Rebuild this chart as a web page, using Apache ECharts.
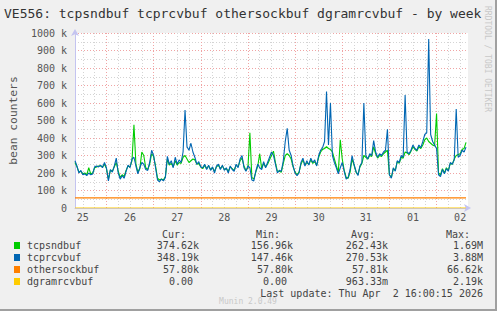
<!DOCTYPE html>
<html>
<head>
<meta charset="utf-8">
<script src="https://cdn.jsdelivr.net/npm/echarts@6/dist/echarts.min.js"></script>
<style>
  html, body { margin: 0; padding: 0; background: #f0f0f0; }
  #chart { width: 497px; height: 311px; }
</style>
</head>
<body>
<div id="chart"></div>
<script>
// ---- data ----
const dayLabels = ['25', '26', '27', '28', '29', '30', '31', '01', '02'];
const startHour = 8;      // first sample: 25 08:00, hourly samples
const sampleCount = 201;  // up to 02 16:00

const tcpsndbuf = [
  260,235,205,210,195,200,190,230,195,200,230,235,240,240,235,250,225,
  165,215,210,235,260,210,175,190,180,215,240,235,270,475,250,205,225,320,300,230,220,250,310,295,
  240,170,160,165,160,180,280,245,255,235,270,245,260,255,290,300,280,260,270,280,275,250,255,235,
  225,245,225,240,220,230,210,235,245,225,240,220,225,210,235,225,215,245,235,270,285,240,215,230,
  430,175,165,205,240,310,225,255,235,250,275,300,325,260,210,210,205,255,300,310,300,280,235,205,
  190,205,250,275,245,260,250,275,255,265,245,290,320,335,340,350,340,335,320,280,240,205,390,280,
  215,175,170,205,280,245,205,190,235,255,300,290,280,300,295,350,310,285,300,295,310,320,330,190,
  175,225,215,265,255,290,285,320,315,305,325,350,335,325,350,340,360,390,400,380,370,360,355,540,
  200,190,225,200,230,215,255,250,280,300,305,310,335,340,375,
  null
];
const tcprcvbuf = [
  270,240,200,215,190,195,185,200,190,195,235,240,235,245,230,260,230,
  155,220,205,240,285,200,165,185,170,210,245,230,280,290,240,195,230,260,250,220,215,260,330,300,
  230,160,150,165,155,175,295,250,270,230,290,250,275,260,320,560,350,330,370,320,290,250,265,235,
  230,250,220,245,215,235,200,240,250,220,245,215,230,200,240,220,210,250,230,280,300,230,210,240,
  230,160,155,210,250,230,220,265,230,260,290,320,300,250,200,215,210,270,380,455,330,300,240,200,
  185,200,260,285,240,270,245,285,260,275,240,300,330,345,380,665,360,600,300,260,230,195,230,260,
  210,165,175,220,300,250,210,185,240,260,600,300,280,310,300,385,320,290,310,300,320,330,450,190,
  170,230,210,270,260,300,290,646,320,310,330,360,340,330,360,345,380,420,430,966,420,380,360,340,
  190,180,220,195,225,210,260,250,275,566,290,300,330,320,348,
  null
];
const othersockbufLevel = 57.8;
const dgramrcvbufLevel = 0;

const seriesNames = ['tcpsndbuf', 'tcprcvbuf', 'othersockbuf', 'dgramrcvbuf'];
const seriesColors = ['#00cc00', '#0066b3', '#ff8000', '#ffcc00'];
const curVals = ['374.62k', '348.19k', '57.80k', '0.00'];
const minVals = ['156.96k', '147.46k', '57.80k', '0.00'];
const avgVals = ['262.43k', '270.53k', '57.81k', '963.33m'];
const maxVals = ['1.69M', '3.88M', '66.62k', '2.19k'];
const yTicks = [0, 100, 200, 300, 400, 500, 600, 700, 800, 900, 1000];

// ---- build ----
const categories = [];
const hourOf = [];
for (let i = 0; i < sampleCount; i++) {
  const t = startHour + i;
  const h = t % 24;
  hourOf.push(h);
  categories.push(dayLabels[Math.floor(t / 24)] + ' ' + String(h).padStart(2, '0') + ':00');
}
const othersockbuf = tcprcvbuf.map(v => v === null ? null : othersockbufLevel);
const dgramrcvbuf = tcprcvbuf.map(v => v === null ? null : dgramrcvbufLevel);

const MONO = '"DejaVu Sans Mono", monospace';
const axisBlue = '#c4c4f0';
const majorGrid = '#f0a4a4';
const minorGrid = '#d4d4d4';

const graphics = [];
// title
graphics.push({ type: 'text', x: 4, y: 13, style: { text: 'VE556: tcpsndbuf tcprcvbuf othersockbuf dgramrcvbuf - by week', font: '13px ' + MONO, fill: '#333', textAlign: 'left', textVerticalAlign: 'middle' } });
// rrdtool watermark
graphics.push({ type: 'text', x: 487, y: 59, rotation: -Math.PI / 2, style: { text: 'RRDTOOL / TOBI OETIKER', font: '8px ' + MONO, fill: '#c8c8c8', textAlign: 'center', textVerticalAlign: 'middle' } });
// legend headers
const colEdges = [199, 293, 388, 483];
const headers = ['Cur:', 'Min:', 'Avg:', 'Max:'];
headers.forEach((h, k) => {
  graphics.push({ type: 'text', x: colEdges[k] - 13, y: 234, style: { text: h, font: '10px ' + MONO, fill: '#444', textAlign: 'right', textVerticalAlign: 'middle' } });
});
const cols = [curVals, minVals, avgVals, maxVals];
seriesNames.forEach((name, r) => {
  const y = 245.5 + r * 12;
  graphics.push({ type: 'rect', shape: { x: 14, y: y - 3.5, width: 6, height: 7 }, style: { fill: seriesColors[r] } });
  graphics.push({ type: 'text', x: 27, y: y, style: { text: name, font: '10px ' + MONO, fill: '#444', textAlign: 'left', textVerticalAlign: 'middle' } });
  cols.forEach((col, k) => {
    const s = col[r];
    const hasUnit = /[a-zA-Z]$/.test(s);
    graphics.push({ type: 'text', x: colEdges[k] - (hasUnit ? 0 : 6), y: y, style: { text: s, font: '10px ' + MONO, fill: '#444', textAlign: 'right', textVerticalAlign: 'middle' } });
  });
});
graphics.push({ type: 'text', x: 483, y: 293.5, style: { text: 'Last update: Thu Apr  2 16:00:15 2026', font: '10px ' + MONO, fill: '#444', textAlign: 'right', textVerticalAlign: 'middle' } });
graphics.push({ type: 'text', x: 248, y: 301, style: { text: 'Munin 2.0.49', font: '8px ' + MONO, fill: '#c8c8c8', textAlign: 'center', textVerticalAlign: 'middle' } });
// frame shadow
graphics.push({ type: 'rect', shape: { x: 495, y: 0, width: 2, height: 311 }, style: { fill: '#a0a0a0' } });
graphics.push({ type: 'rect', shape: { x: 0, y: 309, width: 497, height: 2 }, style: { fill: '#a0a0a0' } });

function lineSeries(name, data, color) {
  return {
    name, type: 'line', data, xAxisIndex: 0, yAxisIndex: 0,
    showSymbol: false, symbol: 'none', smooth: false, animation: false,
    lineStyle: { color, width: 1.1 }, itemStyle: { color }
  };
}

const chart = echarts.init(document.getElementById('chart'), null, { renderer: 'svg' });
chart.setOption({
  backgroundColor: '#f0f0f0',
  animation: false,
  grid: { left: 68, right: 29, top: 33, bottom: 103, show: true, backgroundColor: '#ffffff', borderWidth: 0 },
  xAxis: [
    {
      type: 'category', data: categories, boundaryGap: false,
      axisLine: { show: true, lineStyle: { color: axisBlue, width: 1 }, symbol: ['none', 'arrow'], symbolSize: [6, 7], symbolOffset: [0, 3] },
      axisTick: { show: false },
      axisLabel: {
        interval: (i) => hourOf[i] === 12,
        formatter: (v) => v.split(' ')[0],
        fontFamily: MONO, fontSize: 10, color: '#555', margin: 4
      },
      splitLine: { show: true, interval: (i) => hourOf[i] % 6 === 0 && hourOf[i] !== 0, lineStyle: { color: minorGrid, type: [1, 2], width: 1 } }
    },
    {
      type: 'category', data: categories, boundaryGap: false, position: 'top',
      axisLine: { show: false }, axisTick: { show: false }, axisLabel: { show: false },
      splitLine: { show: true, interval: (i) => hourOf[i] === 0, lineStyle: { color: majorGrid, type: [1, 2], width: 1 } }
    }
  ],
  yAxis: {
    type: 'value', min: yTicks[0], max: yTicks[yTicks.length - 1], interval: yTicks[1] - yTicks[0],
    name: 'bean counters', nameLocation: 'middle', nameRotate: 90, nameGap: 56,
    nameTextStyle: { fontFamily: MONO, fontSize: 11.3, color: '#555' },
    axisLine: { show: true, lineStyle: { color: axisBlue, width: 1 }, symbol: ['none', 'arrow'], symbolSize: [6, 7], symbolOffset: [0, 4] },
    axisTick: { show: false },
    axisLabel: { formatter: (v) => v === 0 ? '0' : v + ' k', fontFamily: MONO, fontSize: 10, color: '#555', margin: 8 },
    splitLine: { show: true, lineStyle: { color: majorGrid, type: [1, 2], width: 1 } },
    minorTick: { show: false, splitNumber: 2 },
    minorSplitLine: { show: true, lineStyle: { color: minorGrid, type: [1, 2], width: 1 } }
  },
  series: [
    lineSeries(seriesNames[0], tcpsndbuf, seriesColors[0]),
    lineSeries(seriesNames[1], tcprcvbuf, seriesColors[1]),
    lineSeries(seriesNames[2], othersockbuf, seriesColors[2]),
    lineSeries(seriesNames[3], dgramrcvbuf, seriesColors[3])
  ],
  graphic: { elements: graphics }
});
</script>
</body>
</html>
